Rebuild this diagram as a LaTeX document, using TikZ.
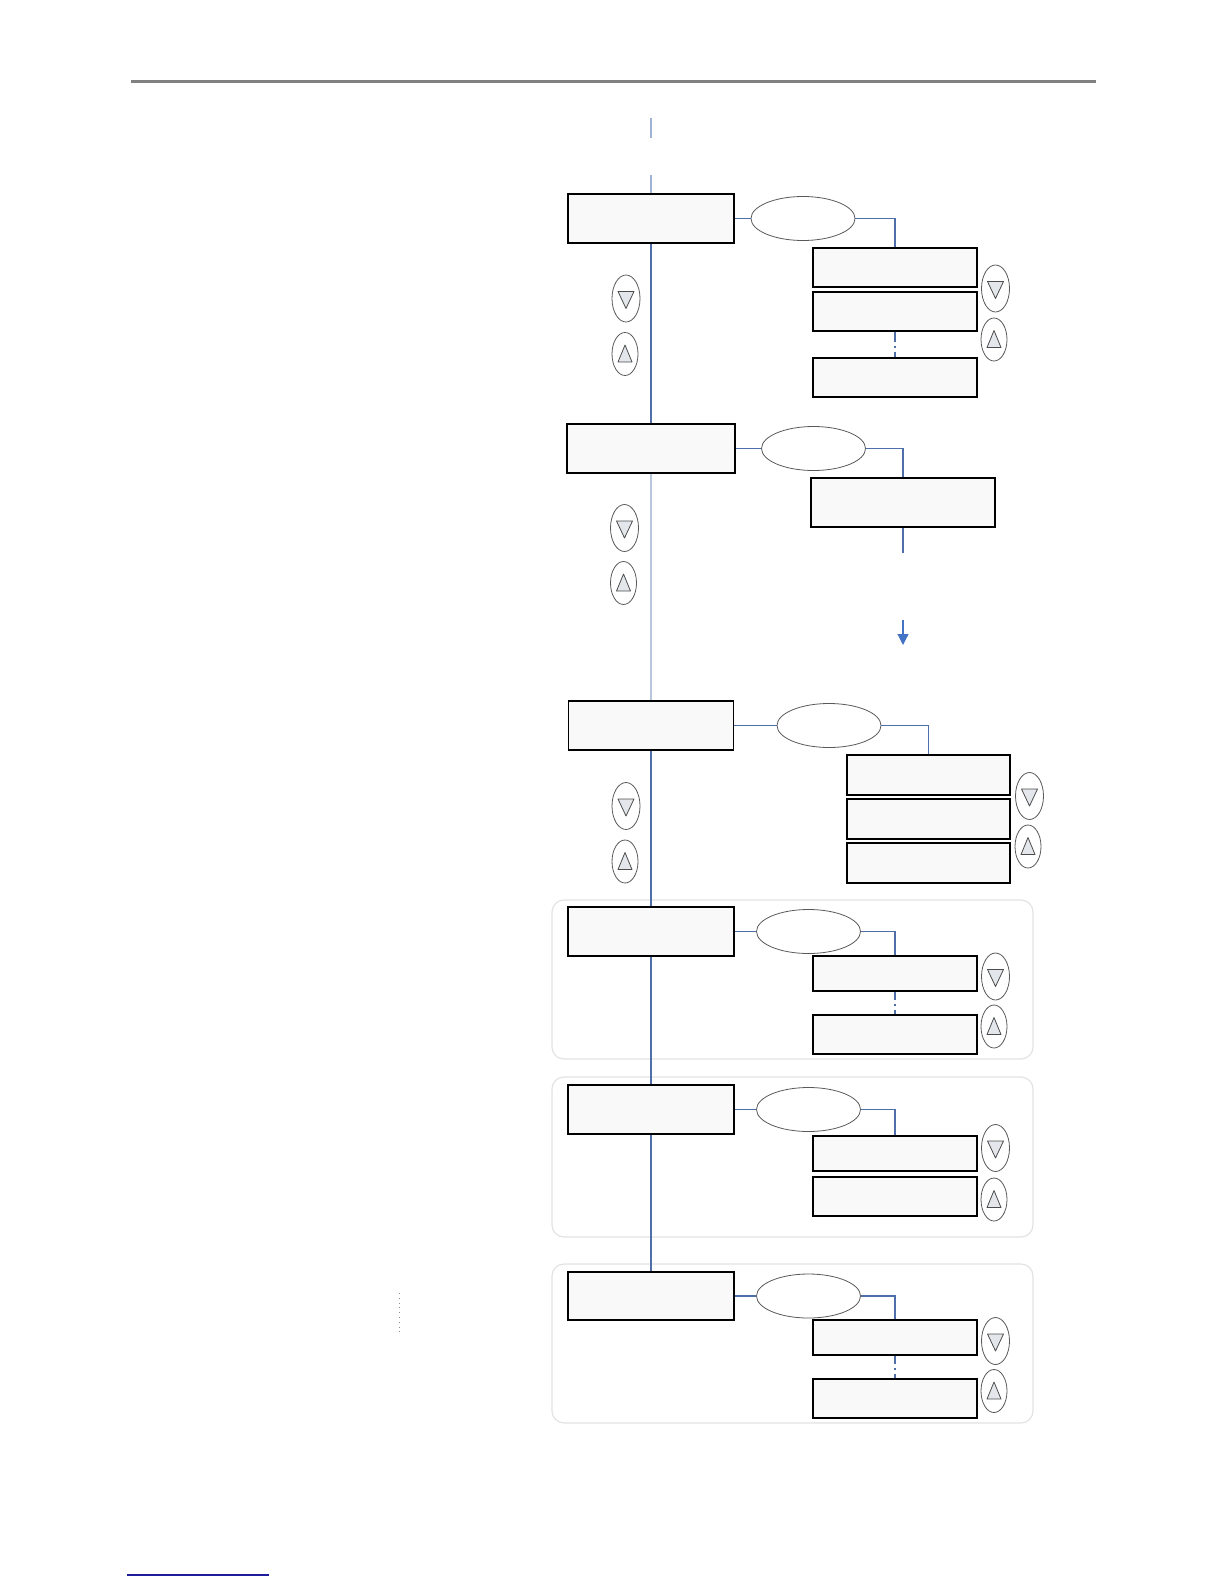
\documentclass[tikz,border=0pt]{standalone}
\usetikzlibrary{shapes.geometric,arrows.meta}
\definecolor{conn}{HTML}{4F6FA8}
\definecolor{connlight}{HTML}{B8C6DE}
\definecolor{conndash}{HTML}{9FB3D6}
\definecolor{boxfill}{HTML}{F9F9F9}
\definecolor{trifill}{HTML}{E3E6EA}
\definecolor{groupline}{HTML}{E2E2E2}
\definecolor{hdr}{HTML}{808080}
\definecolor{linkblue}{HTML}{1C1C9C}
\definecolor{arrowblue}{HTML}{4472C4}
\tikzset{
  mainbox/.style={draw=black, line width=0.65pt, fill=boxfill, minimum width=83pt, minimum height=24.5pt, inner sep=0pt},
  subbox/.style={draw=black, line width=0.65pt, fill=boxfill, minimum width=82pt, inner sep=0pt},
  menuoval/.style={ellipse, draw=black!65, line width=0.4pt, minimum width=52pt, minimum height=22pt, inner sep=0pt},
  keyovaldn/.style={ellipse, draw=black!65, line width=0.4pt, minimum width=14pt, minimum height=23.5pt, inner sep=0pt},
  keyovalup/.style={ellipse, draw=black!65, line width=0.4pt, minimum width=13pt, minimum height=21.5pt, inner sep=0pt},
  connline/.style={draw=conn, line width=0.6pt},
  tri/.style={draw=black!70, fill=trifill, line width=0.4pt, line join=round},
  groupbox/.style={draw=groupline, line width=0.6pt, rounded corners=6pt},
}
\newcommand\keydn[3]{\node[keyovaldn] (#1) at (#2,#3) {};
  \draw[tri] ([shift={(-8,-7)}]#1.center) -- ([shift={(8,-7)}]#1.center) -- ([shift={(0,10)}]#1.center) -- cycle;}
\newcommand\keyup[3]{\node[keyovalup] (#1) at (#2,#3) {};
  \draw[tri] ([shift={(0,-9)}]#1.center) -- ([shift={(7,8)}]#1.center) -- ([shift={(-7,8)}]#1.center) -- cycle;}
\begin{document}
\begin{tikzpicture}[x=0.5pt,y=-0.5pt]
\useasboundingbox (0,0) rectangle (1224,1584);
% header rule
\draw[hdr, line width=1.5pt] (131,82) -- (1096,82);
% group frames
\draw[groupbox] (552,900) rectangle (1033,1059);
\draw[groupbox] (552,1077) rectangle (1033,1237);
\draw[groupbox] (552,1264) rectangle (1033,1423);
% main boxes
\node[mainbox] (m1) at (651,218.5) {};
\node[mainbox, minimum width=84pt] (m2) at (651,448.5) {};
\node[mainbox, minimum width=82.5pt] (m3) at (651,725.5) {};
\node[mainbox] (m4) at (651,931.5) {};
\node[mainbox] (m5) at (651,1109.5) {};
\node[mainbox, minimum height=24pt] (m6) at (651,1296) {};
% menu ovals
\node[menuoval] (o1) at (803,218.5) {};
\node[menuoval] (o2) at (813.5,448.5) {};
\node[menuoval] (o3) at (829,725.5) {};
\node[menuoval] (o4) at (808.5,931.5) {};
\node[menuoval] (o5) at (808.5,1109.5) {};
\node[menuoval] (o6) at (808.5,1296) {};
% sub boxes
\node[subbox, minimum height=19.5pt] (a1) at (895,267.5) {};
\node[subbox, minimum height=19.5pt] (b1) at (895,311.5) {};
\node[subbox, minimum height=19.5pt] (c1) at (895,377.5) {};
\node[subbox, minimum width=92pt, minimum height=24.5pt] (d2) at (903,502.5) {};
\node[subbox, minimum width=81.5pt, minimum height=20pt] (e3) at (928.5,775) {};
\node[subbox, minimum width=81.5pt, minimum height=20pt] (f3) at (928.5,819) {};
\node[subbox, minimum width=81.5pt, minimum height=20pt] (g3) at (928.5,863) {};
\node[subbox, minimum height=17.5pt] (h4) at (895,973.5) {};
\node[subbox, minimum height=19.5pt] (i4) at (895,1034.5) {};
\node[subbox, minimum height=17.5pt] (j5) at (895,1153.5) {};
\node[subbox, minimum height=19.5pt] (k5) at (895,1196.5) {};
\node[subbox, minimum height=17.5pt] (l6) at (895,1337.5) {};
\node[subbox, minimum height=19.5pt] (n6) at (895,1398.5) {};
% keys
\keydn{kd1}{626}{298.5} \keyup{ku1}{625}{354}
\keydn{rd1}{995.5}{288.5} \keyup{ru1}{994}{339.5}
\keydn{kd2}{624.5}{528} \keyup{ku2}{623.5}{583}
\keydn{kd3}{626}{806} \keyup{ku3}{625}{861.5}
\keydn{rd3}{1029.5}{796} \keyup{ru3}{1028}{846.5}
\keydn{rd4}{995.5}{976.5} \keyup{ru4}{994}{1026.5}
\keydn{rd5}{995.5}{1148} \keyup{ru5}{994}{1199.5}
\keydn{rd6}{995.5}{1341} \keyup{ru6}{994}{1391}
% main spine
\coordinate (top) at (651,118);
\draw[draw=conndash, line width=0.6pt, dash pattern=on 10pt off 18.5pt] (top) -- (m1.north);
\draw[connline] (m1.south) -- (m2.north);
\draw[draw=connlight, line width=0.6pt] (m2.south) -- (m3.north);
\draw[connline] (m3.south) -- (m4.north);
\draw[connline] (m4.south) -- (m5.north);
\draw[connline] (m5.south) -- (m6.north);
% branches
\draw[connline] (m1.east) -- (o1.west);
\draw[connline] (o1.east) -| (a1.north);
\draw[connline, dash pattern=on 5pt off 2pt on 1pt off 2pt] (b1.south) -- (c1.north);
\draw[connline] (m2.east) -- (o2.west);
\draw[connline] (o2.east) -| (d2.north);
\coordinate (dend) at (903,553);
\draw[connline] (d2.south) -- (dend);
\coordinate (arrs) at (903,620);
\coordinate (arre) at (903,645);
\draw[draw=arrowblue, line width=0.6pt, -{Triangle[length=5.5pt,width=5.5pt]}, arrowblue] (arrs) -- (arre);
\draw[connline] (m3.east) -- (o3.west);
\draw[connline] (o3.east) -| (e3.north);
\draw[connline] (m4.east) -- (o4.west);
\draw[connline] (o4.east) -| (h4.north);
\draw[connline, dash pattern=on 4pt off 2pt on 1pt off 2pt] (h4.south) -- (i4.north);
\draw[connline] (m5.east) -- (o5.west);
\draw[connline] (o5.east) -| (j5.north);
\draw[connline] (m6.east) -- (o6.west);
\draw[connline] (o6.east) -| (l6.north);
\draw[connline, dash pattern=on 4pt off 2pt on 1pt off 2pt] (l6.south) -- (n6.north);
% stray marks
\draw[black!45, line width=0.4pt, dotted] (399,1293) -- (399,1333);
\draw[linkblue, line width=0.7pt] (127,1575) -- (269,1575);
\end{tikzpicture}
\end{document}
